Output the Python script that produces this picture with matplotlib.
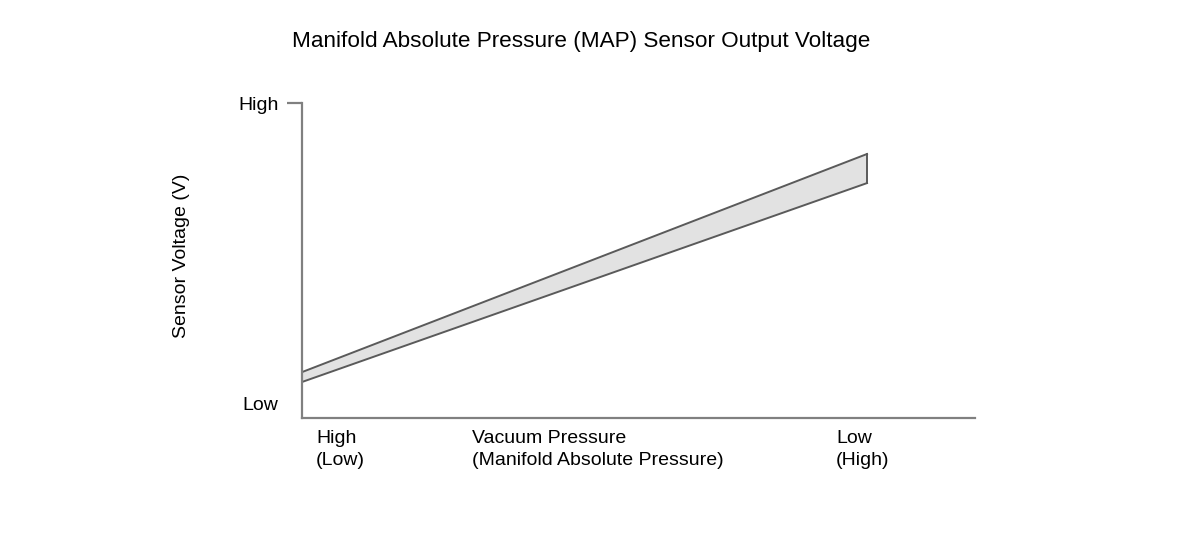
import matplotlib
matplotlib.use("Agg")
import matplotlib.pyplot as plt
import numpy as np

plt.rcParams['font.family'] = ['Liberation Sans', 'DejaVu Sans']

# data
x_pts = [0.0, 1.0]
upper = [0.103, 0.83]
lower = [0.07, 0.733]
ytick_vals = [0.0, 1.0]
ytick_labels = ["Low", "High"]
x_labels = ["High\n(Low)", "Vacuum Pressure\n(Manifold Absolute Pressure)", "Low\n(High)"]
x_label_pos = [0.025, 0.30, 0.945]

fig = plt.figure(figsize=(12, 5.49), dpi=100)
W, H = 1200, 549
L, R, B, T = 302, 975, 418, 103
ax = fig.add_axes([L / W, 1 - B / H, (R - L) / W, (B - T) / H])
ax.set_xlim(0, (975 - 302) / 565)
ax.set_ylim(-0.05, 1.0)

ax.fill_between(x_pts, lower, upper, facecolor="#e2e2e2", edgecolor="none")
ax.plot(x_pts, upper, color="#5a5a5a", lw=1.4)
ax.plot(x_pts, lower, color="#5a5a5a", lw=1.4)
ax.plot([x_pts[-1], x_pts[-1]], [lower[-1], upper[-1]], color="#5a5a5a", lw=1.4)

for s in ["top", "right"]:
    ax.spines[s].set_visible(False)
for s in ["left", "bottom"]:
    ax.spines[s].set_color("#808080")
    ax.spines[s].set_linewidth(1.6)

ax.set_xticks([])
ax.set_yticks(ytick_vals)
ax.set_yticklabels(ytick_labels, fontsize=14)
ax.tick_params(axis="y", length=11, width=1.6, color="#808080", pad=6)
ax.yaxis.get_major_ticks()[0].tick1line.set_visible(False)

for lab, xp in zip(x_labels, x_label_pos):
    ax.text(xp, -0.09, lab, ha="left", va="top", fontsize=14, linespacing=1.35)

fig.text(182 / W, 1 - 256 / H, "Sensor Voltage (V)", rotation=90,
         ha="center", va="center", fontsize=14)
fig.text(581 / W, 1 - 42 / H, "Manifold Absolute Pressure (MAP) Sensor Output Voltage",
         ha="center", va="center", fontsize=16.2)

fig.savefig("out.png", dpi=100, facecolor="white")
